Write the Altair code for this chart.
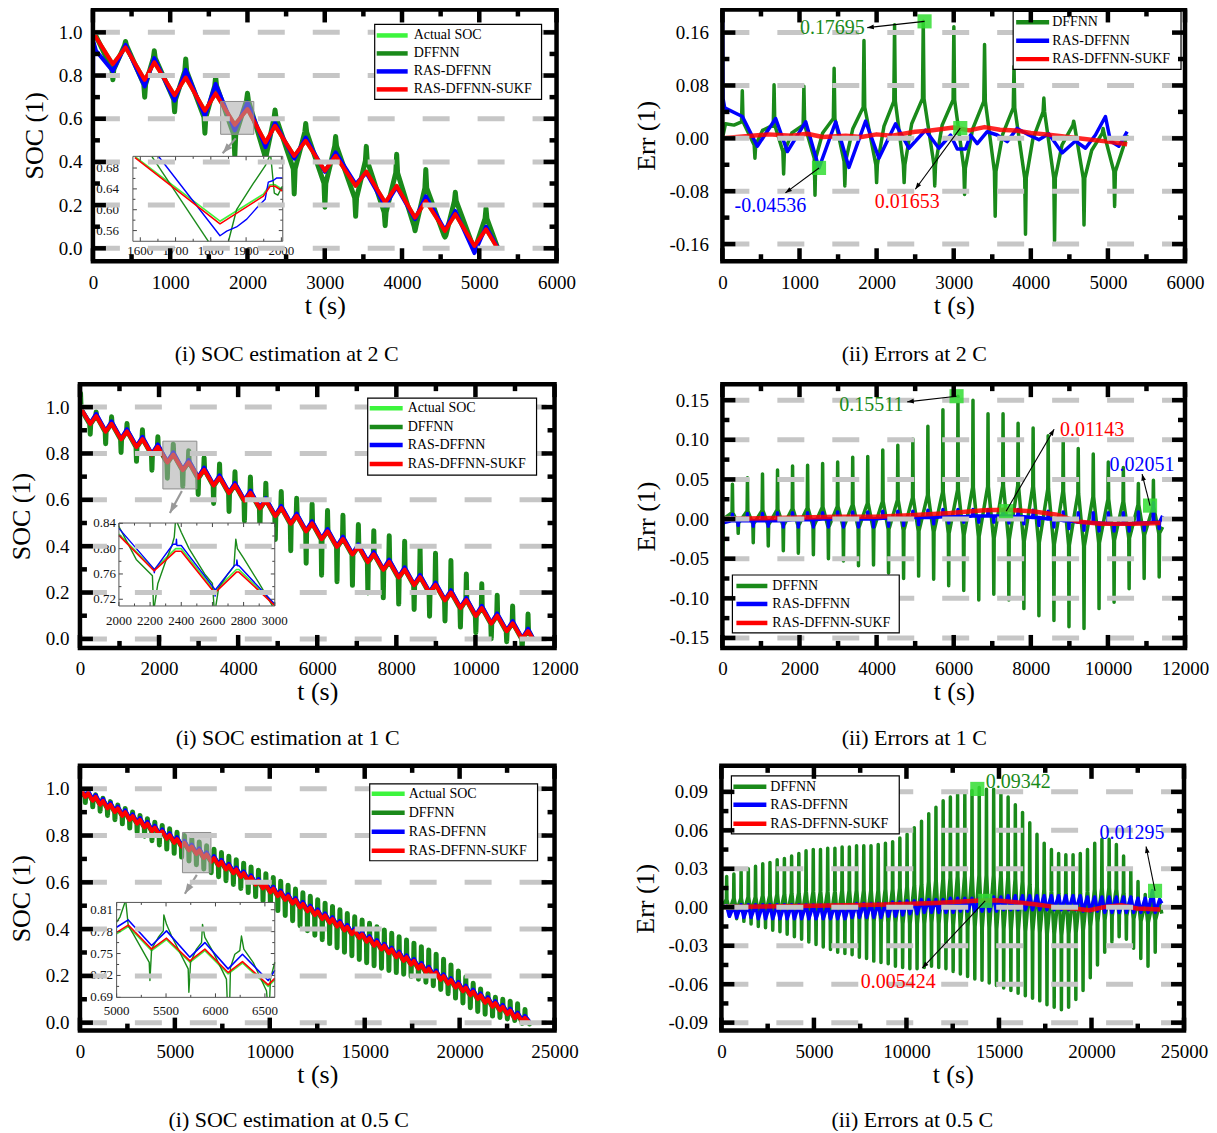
import math
import altair as alt
import pandas as pd

FONT = "Liberation Serif"
C_ACT = "#3df53d"
C_DFF = "#1a8a1a"
C_RAS = "#0000ff"
C_SUKF = "#ff0000"
C_GRID = "#c6c6c6"
C_SQ = "#33dd33"
ARROW = "M0,0L0.36,1L-0.36,1Z"
DUMMY = pd.DataFrame({"a": [0]})

# ===================== 2 C =====================
trough_t_2c = [258, 670, 1057, 1449, 1836, 2233, 2605, 3002, 3400, 3782, 4169, 4556, 4938]
peak_t_2c = [422, 794, 1201, 1588, 2000, 2357, 2754, 3141, 3538, 3931, 4308, 4690, 5087]
soc_trough_2c = [0.853, 0.780, 0.709, 0.637, 0.572, 0.490, 0.428, 0.359, 0.289, 0.212, 0.142, 0.080, 0.011]
soc_peak_2c = [0.930, 0.861, 0.791, 0.717, 0.645, 0.567, 0.498, 0.428, 0.355, 0.289, 0.219, 0.158, 0.088]
dffnn_lo_2c = [0.780, 0.700, 0.632, 0.533, 0.425, 0.330, 0.252, 0.190, 0.148, 0.105, 0.081, 0.052, -0.004]
dffnn_hi_2c = [0.958, 0.915, 0.877, 0.795, 0.718, 0.640, 0.578, 0.518, 0.472, 0.435, 0.365, 0.260, 0.185]
dffnn_trsh_2c = [0.828, 0.760, 0.689, 0.607, 0.525, 0.434, 0.368, 0.301, 0.233, 0.166, 0.102, 0.060, 0.003]
dffnn_pksh_2c = [0.940, 0.881, 0.821, 0.752, 0.685, 0.607, 0.538, 0.473, 0.405, 0.349, 0.279, 0.218, 0.138]
ras_lo_2c = [0.820, 0.750, 0.684, 0.612, 0.546, 0.468, 0.415, 0.354, 0.297, 0.197, 0.135, 0.084, -0.022]
ras_hi_2c = [0.942, 0.881, 0.826, 0.761, 0.675, 0.582, 0.513, 0.444, 0.350, 0.284, 0.241, 0.173, 0.100]

err_up_2c = [0.072, 0.081, 0.079, 0.106, 0.148, 0.172, 0.177, 0.169, 0.142, 0.109, 0.061, 0.026, 0.015]
err_dn_2c = [-0.030, -0.054, -0.086, -0.072, -0.067, -0.067, -0.072, -0.085, -0.118, -0.145, -0.155, -0.131, -0.103]
err_ramp_2c = [0.025, 0.020, 0.020, 0.030, 0.047, 0.056, 0.060, 0.058, 0.056, 0.046, 0.040, 0.020, 0.008]
err_base_2c = [-0.010, -0.020, -0.030, -0.035, -0.040, -0.040, -0.040, -0.045, -0.050, -0.060, -0.060, -0.060, -0.050]
err_mid_t_2c = [520, 900, 1300, 1690, 2095, 2455, 2850, 3245, 3635, 4025, 4405, 4790]
err_mid_v_2c = [0.012, 0.008, 0.008, 0.014, 0.018, 0.022, 0.020, 0.014, 0.006, -0.002, -0.010, -0.018]
ras_err_t_2c = [0, 8, 30, 259, 453, 691, 843, 1080, 1252, 1469, 1641, 1857, 2030, 2246, 2419, 2635, 2680,
                2808, 2959, 3046, 3154, 3218, 3305, 3434, 3564, 3693, 3823, 3974, 4104, 4233, 4406, 4579,
                4709, 4838, 4968, 5033, 5141, 5249]
ras_err_v_2c = [0.25, 0.06, 0.046, 0.033, -0.012, 0.030, -0.020, 0.025, -0.045, 0.025, -0.044, 0.026,
                -0.030, 0.022, -0.015, 0.0125, 0.005, -0.015, 0.005, -0.016, -0.016, 0.005, -0.008, 0.010,
                0.005, -0.005, 0.015, 0.005, -0.002, 0.007, -0.022, -0.004, -0.015, 0.005, 0.033, -0.004,
                -0.012, 0.010]
sukf_err_t_2c = [0, 300, 600, 900, 1100, 1300, 1600, 1800, 2000, 2200, 2500, 2700, 3000, 3200, 3400, 3600,
                 3800, 4000, 4200, 4400, 4700, 5000, 5250]
sukf_err_v_2c = [0.0, 0.003, 0.006, 0.004, 0.007, 0.002, 0.004, 0.002, 0.006, 0.004, 0.010, 0.012, 0.0165,
                 0.012, 0.017, 0.013, 0.012, 0.008, 0.006, 0.003, -0.001, -0.005, -0.009]

# inset 2 C
in1_act_t = [1585, 1826, 1949, 1968, 1982, 2003]
in1_act_v = [0.702, 0.578, 0.630, 0.648, 0.648, 0.639]
in1_sukf_v = [0.700, 0.573, 0.626, 0.645, 0.645, 0.636]
in1_ras_t = [1652, 1826, 1845, 1873, 1902, 1935, 1954, 1963, 1977, 1987, 2003]
in1_ras_v = [0.702, 0.550, 0.559, 0.567, 0.582, 0.607, 0.620, 0.653, 0.656, 0.661, 0.661]
in1_dff = [([1633, 1793], [0.702, 0.5395]),
           ([1850, 1873, 1920, 1955, 1966], [0.5395, 0.600, 0.650, 0.685, 0.702]),
           ([1970, 1980, 1990, 2003], [0.702, 0.632, 0.628, 0.645])]

# ===================== 1 C =====================
trough_t_1c = [260, 650, 1040, 1430, 1820, 2210, 2600, 2990, 3380, 3770, 4160, 4550, 4940, 5330, 5720,
               6110, 6500, 6890, 7280, 7670, 8060, 8450, 8840, 9230, 9620, 10010, 10400, 10790, 11180]
peak_t_1c = [410, 800, 1190, 1580, 1970, 2360, 2750, 3140, 3530, 3920, 4310, 4700, 5090, 5480, 5870,
             6260, 6650, 7040, 7430, 7820, 8210, 8600, 8990, 9380, 9770, 10160, 10550, 10940, 11330]
soc_trough_1c = [0.927, 0.894, 0.861, 0.828, 0.795, 0.761, 0.728, 0.695, 0.662, 0.629, 0.596, 0.563, 0.530,
                 0.497, 0.464, 0.430, 0.397, 0.364, 0.331, 0.298, 0.265, 0.232, 0.199, 0.166, 0.133, 0.099,
                 0.066, 0.033, 0.000]
soc_peak_1c = [0.961, 0.928, 0.895, 0.862, 0.829, 0.795, 0.762, 0.729, 0.696, 0.663, 0.630, 0.597, 0.564,
               0.531, 0.498, 0.464, 0.431, 0.398, 0.365, 0.332, 0.299, 0.266, 0.233, 0.200, 0.167, 0.133,
               0.100, 0.067, 0.034]
dffnn_lo_1c = [0.883, 0.842, 0.804, 0.766, 0.728, 0.693, 0.658, 0.623, 0.584, 0.550, 0.509, 0.470, 0.429,
               0.380, 0.326, 0.275, 0.247, 0.231, 0.198, 0.177, 0.150, 0.127, 0.098, 0.077, 0.051, 0.027,
               0.001, -0.012, -0.049]
dffnn_hi_1c = [0.979, 0.958, 0.929, 0.902, 0.872, 0.840, 0.812, 0.782, 0.755, 0.721, 0.698, 0.672, 0.636,
               0.607, 0.582, 0.554, 0.533, 0.493, 0.467, 0.445, 0.421, 0.394, 0.369, 0.338, 0.280, 0.238,
               0.188, 0.142, 0.107]
ras_lo_1c = [0.930, 0.897, 0.864, 0.831, 0.798, 0.764, 0.731, 0.698, 0.665, 0.632, 0.599, 0.566, 0.533,
             0.500, 0.467, 0.433, 0.400, 0.367, 0.334, 0.301, 0.268, 0.235, 0.202, 0.169, 0.136, 0.102,
             0.069, 0.036, 0.003]
ras_hi_1c = [0.971, 0.938, 0.905, 0.872, 0.839, 0.805, 0.772, 0.739, 0.706, 0.673, 0.640, 0.607, 0.574,
             0.541, 0.508, 0.474, 0.441, 0.408, 0.375, 0.342, 0.309, 0.276, 0.243, 0.210, 0.177, 0.143,
             0.110, 0.077, 0.044]

err_up_1c = [0.044, 0.052, 0.057, 0.062, 0.067, 0.068, 0.070, 0.072, 0.078, 0.079, 0.087, 0.093, 0.101,
             0.117, 0.138, 0.155, 0.150, 0.133, 0.133, 0.121, 0.115, 0.105, 0.101, 0.089, 0.082, 0.072,
             0.065, 0.045, 0.049]
err_dn_1c = [-0.018, -0.030, -0.034, -0.040, -0.043, -0.045, -0.050, -0.053, -0.059, -0.058, -0.068, -0.075,
             -0.072, -0.076, -0.084, -0.090, -0.102, -0.095, -0.102, -0.113, -0.122, -0.128, -0.136, -0.138,
             -0.113, -0.105, -0.088, -0.075, -0.073]
err_ramp_1c = [0.008, 0.010, 0.011, 0.012, 0.013, 0.014, 0.015, 0.016, 0.018, 0.020, 0.022, 0.024, 0.027,
               0.030, 0.034, 0.037, 0.040, 0.041, 0.042, 0.042, 0.041, 0.038, 0.035, 0.032, 0.028, 0.025,
               0.022, 0.018, 0.015]
err_base_1c = [-0.005, -0.006, -0.007, -0.008, -0.008, -0.009, -0.010, -0.010, -0.011, -0.012, -0.013,
               -0.014, -0.015, -0.016, -0.018, -0.020, -0.022, -0.024, -0.026, -0.028, -0.030, -0.032,
               -0.033, -0.034, -0.030, -0.027, -0.024, -0.020, -0.018]
ras_up_1c = [0.006, 0.007, 0.007, 0.008, 0.008, 0.008, 0.008, 0.009, 0.009, 0.009, 0.010, 0.010, 0.010,
             0.011, 0.012, 0.012, 0.012, 0.012, 0.012, 0.012, 0.011, 0.010, 0.009, 0.008, 0.008, 0.008,
             0.008, 0.009, 0.0205]
ras_dn_1c = [-0.008, -0.009, -0.009, -0.010, -0.010, -0.010, -0.010, -0.010, -0.010, -0.010, -0.009,
             -0.008, -0.007, -0.006, -0.005, -0.004, -0.004, -0.004, -0.005, -0.006, -0.008, -0.010,
             -0.012, -0.014, -0.015, -0.015, -0.015, -0.014, -0.012]
ras_base_1c = [-0.002, -0.002, -0.002, -0.002, -0.001, -0.001, 0.0, 0.0, 0.0, 0.0, 0.001, 0.001, 0.002,
               0.002, 0.003, 0.003, 0.004, 0.004, 0.004, 0.003, 0.002, 0.0, -0.002, -0.004, -0.005, -0.006,
               -0.006, -0.005, -0.004]
sukf_err_t_1c = [0, 1000, 2000, 3000, 4000, 5000, 5919, 6782, 7387, 8078, 8683, 9201, 9806, 10670, 11362]
sukf_err_v_1c = [0.0, 0.001, 0.002, 0.003, 0.003, 0.005, 0.0075, 0.011, 0.0117, 0.0096, 0.0054, -0.003,
                 -0.006, -0.006, -0.005]

# inset 1 C
in2_t = [2000, 2225, 2364, 2400, 2615, 2754, 2770, 3000]
in2_sukf_v = [0.821, 0.765, 0.796, 0.796, 0.730, 0.763, 0.763, 0.710]
in2_act_v = [0.823, 0.767, 0.800, 0.800, 0.733, 0.767, 0.767, 0.712]
in2_ras_t = [2000, 2225, 2227, 2232, 2347, 2367, 2369, 2372, 2400, 2615, 2617, 2622, 2743, 2754, 2757,
             2762, 2770, 3000]
in2_ras_v = [0.832, 0.768, 0.762, 0.768, 0.807, 0.807, 0.815, 0.805, 0.805, 0.736, 0.725, 0.736, 0.774,
             0.774, 0.782, 0.773, 0.773, 0.712]
in2_dff = [([2000, 2111, 2215, 2222], [0.835, 0.783, 0.757, 0.7094]),
           ([2228, 2250, 2300, 2340, 2355, 2362], [0.7094, 0.745, 0.780, 0.805, 0.818, 0.8405]),
           ([2375, 2400, 2450, 2550, 2600, 2610], [0.8405, 0.826, 0.800, 0.760, 0.745, 0.7094]),
           ([2622, 2640, 2700, 2738, 2750, 2760, 2800, 2900, 2985],
            [0.7094, 0.738, 0.760, 0.772, 0.815, 0.800, 0.785, 0.745, 0.7094])]

# ===================== 0.5 C =====================
trough_t_05 = [284, 674, 1064, 1454, 1844, 2234, 2624, 3014, 3404, 3794, 4184, 4574, 4964, 5354, 5744,
               6134, 6524, 6914, 7304, 7694, 8084, 8474, 8864, 9254, 9644, 10034, 10424, 10814, 11204,
               11594, 11984, 12374, 12764, 13154, 13544, 13934, 14324, 14714, 15104, 15494, 15884, 16274,
               16664, 17054, 17444, 17834, 18224, 18614, 19004, 19394, 19784, 20174, 20564, 20954, 21344,
               21734, 22124, 22514, 22904, 23294, 23684]
peak_t_05 = [434, 824, 1214, 1604, 1994, 2384, 2774, 3164, 3554, 3944, 4334, 4724, 5114, 5504, 5894,
             6284, 6674, 7064, 7454, 7844, 8234, 8624, 9014, 9404, 9794, 10184, 10574, 10964, 11354, 11744,
             12134, 12524, 12914, 13304, 13694, 14084, 14474, 14864, 15254, 15644, 16034, 16424, 16814,
             17204, 17594, 17984, 18374, 18764, 19154, 19544, 19934, 20324, 20714, 21104, 21494, 21884,
             22274, 22664, 23054, 23444]
soc_trough_05 = [0.965, 0.949, 0.932, 0.916, 0.900, 0.884, 0.867, 0.851, 0.835, 0.818,
                 0.802, 0.786, 0.769, 0.753, 0.737, 0.721, 0.704, 0.688, 0.672, 0.655,
                 0.639, 0.623, 0.606, 0.590, 0.574, 0.557, 0.541, 0.525, 0.509, 0.492,
                 0.476, 0.460, 0.443, 0.427, 0.411, 0.394, 0.378, 0.362, 0.346, 0.329,
                 0.313, 0.297, 0.280, 0.264, 0.248, 0.231, 0.215, 0.199, 0.183, 0.166,
                 0.150, 0.134, 0.117, 0.101, 0.085, 0.068, 0.052, 0.036, 0.019, 0.005, 0.000]
soc_peak_05 = [0.981, 0.965, 0.948, 0.932, 0.916, 0.900, 0.883, 0.867, 0.851, 0.834,
               0.818, 0.802, 0.785, 0.769, 0.753, 0.737, 0.720, 0.704, 0.688, 0.671,
               0.655, 0.639, 0.622, 0.606, 0.590, 0.573, 0.557, 0.541, 0.525, 0.508,
               0.492, 0.476, 0.459, 0.443, 0.427, 0.410, 0.394, 0.378, 0.362, 0.345,
               0.329, 0.313, 0.296, 0.280, 0.264, 0.247, 0.231, 0.215, 0.199, 0.182,
               0.166, 0.150, 0.133, 0.117, 0.101, 0.084, 0.068, 0.052, 0.035, 0.021]
dffnn_lo_05 = [0.941, 0.923, 0.904, 0.886, 0.868, 0.850, 0.832, 0.814, 0.797, 0.778,
               0.760, 0.742, 0.724, 0.708, 0.691, 0.675, 0.657, 0.641, 0.624, 0.607,
               0.591, 0.574, 0.556, 0.539, 0.520, 0.500, 0.479, 0.458, 0.436, 0.414,
               0.393, 0.374, 0.355, 0.338, 0.320, 0.301, 0.286, 0.270, 0.256, 0.243,
               0.233, 0.223, 0.214, 0.207, 0.198, 0.186, 0.173, 0.158, 0.142, 0.124,
               0.105, 0.084, 0.064, 0.048, 0.036, 0.028, 0.022, 0.016, 0.009, -0.003, -0.006]
dffnn_hi_05 = [0.988, 0.974, 0.959, 0.945, 0.931, 0.916, 0.901, 0.886, 0.872, 0.857,
               0.843, 0.829, 0.814, 0.800, 0.786, 0.772, 0.756, 0.741, 0.727, 0.711,
               0.697, 0.682, 0.666, 0.652, 0.637, 0.621, 0.605, 0.588, 0.571, 0.555,
               0.540, 0.526, 0.511, 0.497, 0.483, 0.467, 0.453, 0.439, 0.425, 0.410,
               0.396, 0.382, 0.367, 0.353, 0.340, 0.325, 0.311, 0.293, 0.271, 0.247,
               0.221, 0.195, 0.168, 0.144, 0.124, 0.109, 0.100, 0.092, 0.081, 0.056]
ras_lo_05 = [0.970, 0.954, 0.937, 0.921, 0.905, 0.889, 0.872, 0.856, 0.840, 0.823,
             0.807, 0.791, 0.774, 0.758, 0.742, 0.726, 0.709, 0.693, 0.677, 0.660,
             0.644, 0.628, 0.611, 0.595, 0.579, 0.562, 0.546, 0.530, 0.514, 0.497,
             0.481, 0.465, 0.448, 0.432, 0.416, 0.399, 0.383, 0.367, 0.351, 0.334,
             0.318, 0.302, 0.285, 0.269, 0.253, 0.236, 0.220, 0.204, 0.188, 0.171,
             0.155, 0.139, 0.122, 0.106, 0.090, 0.073, 0.057, 0.041, 0.024, 0.010, 0.003]
ras_hi_05 = [0.989, 0.973, 0.956, 0.940, 0.924, 0.908, 0.891, 0.875, 0.859, 0.842,
             0.826, 0.810, 0.793, 0.777, 0.761, 0.745, 0.728, 0.712, 0.696, 0.679,
             0.663, 0.647, 0.630, 0.614, 0.598, 0.581, 0.565, 0.549, 0.533, 0.516,
             0.500, 0.484, 0.467, 0.451, 0.435, 0.418, 0.402, 0.386, 0.370, 0.353,
             0.337, 0.321, 0.304, 0.288, 0.272, 0.255, 0.239, 0.223, 0.207, 0.190,
             0.174, 0.158, 0.141, 0.125, 0.109, 0.092, 0.076, 0.060, 0.043, 0.029]

err_up_05 = [0.024, 0.026, 0.028, 0.030, 0.032, 0.034, 0.035, 0.037, 0.038, 0.040,
             0.042, 0.044, 0.045, 0.045, 0.046, 0.046, 0.047, 0.047, 0.048, 0.048,
             0.048, 0.049, 0.050, 0.051, 0.054, 0.057, 0.062, 0.067, 0.073, 0.078,
             0.083, 0.086, 0.088, 0.089, 0.091, 0.0934, 0.092, 0.092, 0.090, 0.086,
             0.080, 0.074, 0.066, 0.057, 0.050, 0.045, 0.042, 0.041, 0.041, 0.042,
             0.045, 0.050, 0.053, 0.053, 0.049, 0.040, 0.030, 0.020, 0.010, 0.008, 0.006]
err_dn_05 = [-0.007, -0.009, -0.011, -0.013, -0.015, -0.016, -0.018, -0.019, -0.021, -0.023,
             -0.025, -0.027, -0.029, -0.031, -0.033, -0.035, -0.036, -0.037, -0.039, -0.040,
             -0.042, -0.043, -0.044, -0.046, -0.047, -0.048, -0.048, -0.047, -0.046, -0.047,
             -0.048, -0.050, -0.052, -0.054, -0.056, -0.057, -0.059, -0.061, -0.063, -0.065,
             -0.067, -0.069, -0.071, -0.073, -0.076, -0.078, -0.080, -0.078, -0.072, -0.065,
             -0.055, -0.045, -0.035, -0.027, -0.023, -0.025, -0.032, -0.040, -0.046, -0.035]
err_ramp_05 = [0.006, 0.007, 0.007, 0.008, 0.008, 0.009, 0.009, 0.010, 0.010, 0.011,
               0.011, 0.012, 0.012, 0.012, 0.012, 0.012, 0.013, 0.013, 0.013, 0.013,
               0.013, 0.013, 0.014, 0.014, 0.015, 0.016, 0.017, 0.018, 0.020, 0.021,
               0.022, 0.023, 0.024, 0.024, 0.025, 0.025, 0.025, 0.025, 0.024, 0.023,
               0.022, 0.020, 0.018, 0.016, 0.014, 0.012, 0.011, 0.011, 0.011, 0.011,
               0.012, 0.014, 0.015, 0.015, 0.014, 0.011, 0.008, 0.006, 0.003, 0.002, 0.002]
err_base_05 = [-0.002, -0.002, -0.003, -0.003, -0.004, -0.004, -0.005, -0.005, -0.006, -0.006,
               -0.007, -0.007, -0.008, -0.008, -0.009, -0.009, -0.010, -0.010, -0.010, -0.011,
               -0.011, -0.012, -0.012, -0.012, -0.013, -0.013, -0.013, -0.013, -0.012, -0.013,
               -0.013, -0.014, -0.014, -0.015, -0.015, -0.016, -0.016, -0.017, -0.017, -0.018,
               -0.018, -0.019, -0.019, -0.020, -0.021, -0.021, -0.022, -0.021, -0.020, -0.018,
               -0.015, -0.012, -0.010, -0.007, -0.006, -0.007, -0.009, -0.011, -0.012, -0.010]
ras_up_05 = [0.001, 0.001, 0.002, 0.002, 0.002, 0.002, 0.002, 0.002, 0.002, 0.002,
             0.002, 0.002, 0.002, 0.002, 0.002, 0.002, 0.002, 0.002, 0.003, 0.003,
             0.003, 0.003, 0.003, 0.004, 0.004, 0.005, 0.005, 0.006, 0.006, 0.006,
             0.006, 0.007, 0.007, 0.007, 0.007, 0.007, 0.007, 0.008, 0.008, 0.009,
             0.009, 0.009, 0.009, 0.009, 0.009, 0.009, 0.009, 0.009, 0.009, 0.009,
             0.008, 0.008, 0.008, 0.008, 0.008, 0.008, 0.008, 0.007, 0.007, 0.013, 0.006]
ras_dn_05 = [-0.007, -0.008, -0.008, -0.008, -0.009, -0.009, -0.009, -0.009, -0.009, -0.009,
             -0.009, -0.009, -0.009, -0.009, -0.009, -0.009, -0.009, -0.008, -0.008, -0.008,
             -0.008, -0.008, -0.007, -0.007, -0.006, -0.005, -0.005, -0.004, -0.004, -0.004,
             -0.004, -0.004, -0.003, -0.003, -0.003, -0.003, -0.003, -0.003, -0.002, -0.002,
             -0.002, -0.002, -0.002, -0.002, -0.002, -0.002, -0.002, -0.002, -0.002, -0.003,
             -0.003, -0.003, -0.004, -0.004, -0.004, -0.004, -0.004, -0.004, -0.004, -0.004]
sukf_err_t_05 = [0, 4150, 8400, 11600, 13720, 14790, 15850, 16920, 17980, 19040, 19890, 20740, 21600,
                 22450, 23720]
sukf_err_v_05 = [0.0003, 0.001, 0.002, 0.0034, 0.005, 0.0055, 0.004, 0.0024, 0.0003, -0.001, -0.0023,
                 0.0003, 0.0016, -0.001, -0.0018]

# inset 0.5 C
in3_t = [5000, 5118, 5354, 5505, 5741, 5893, 6128, 6273, 6533, 6600]
in3_sukf_v = [0.779, 0.789, 0.756, 0.771, 0.740, 0.756, 0.724, 0.739, 0.707, 0.716]
in3_act_v = [0.777, 0.787, 0.754, 0.769, 0.738, 0.754, 0.722, 0.737, 0.705, 0.714]
in3_ras_v = [0.786, 0.796, 0.761, 0.781, 0.745, 0.765, 0.729, 0.749, 0.713, 0.727]
in3_dff = [([5000, 5034, 5084], [0.793, 0.800, 0.820]),
           ([5094, 5118, 5168, 5330, 5337, 5354, 5421, 5472, 5478, 5505, 5556, 5724, 5731, 5748, 5808,
             5859, 5869, 5893, 5977, 6111, 6118],
            [0.820, 0.788, 0.777, 0.738, 0.713, 0.756, 0.772, 0.781, 0.803, 0.790, 0.774, 0.729, 0.697,
             0.738, 0.756, 0.765, 0.790, 0.772, 0.752, 0.715, 0.690]),
           ([6145, 6152, 6196, 6246, 6263, 6287, 6381, 6516, 6522],
            [0.690, 0.731, 0.749, 0.754, 0.774, 0.756, 0.738, 0.699, 0.690]),
           ([6549, 6556, 6600], [0.690, 0.715, 0.738])]


# ===================== helpers =====================
def pts_df(pts, seg=0):
    d = pd.DataFrame(pts, columns=["t", "v"])
    d["seg"] = seg
    d["i"] = list(range(len(d)))
    return d


def zig(start, t1, v1, t2, v2, end):
    pts = list(start)
    n2 = min(len(t2), len(v2))
    for k in range(min(len(t1), len(v1))):
        pts.append((t1[k], v1[k]))
        if k < n2:
            pts.append((t2[k], v2[k]))
    return pts + list(end)


def spikes(start, t1, s1, x1, t2, s2, x2, end, d, mt=(), mv=()):
    pts = list(start)
    n1 = min(len(t1), len(s1), len(x1))
    n2 = min(len(t2), len(s2), len(x2))
    nm = min(len(mt), len(mv))
    for k in range(n1):
        pts += [(t1[k] - d, s1[k]), (t1[k], x1[k]), (t1[k] + d, s1[k])]
        if k < n2:
            pts += [(t2[k] - d, s2[k]), (t2[k], x2[k]), (t2[k] + d, s2[k])]
            if k < nm:
                pts.append((mt[k], mv[k]))
    return pts + list(end)


def segs(pairs):
    return pd.concat([pts_df(list(zip(ts, vs)), k) for k, (ts, vs) in enumerate(pairs)],
                     ignore_index=True)


def x_axis(vals):
    return alt.Axis(values=vals, format="d", title="t (s)", grid=False, ticks=False, domain=False,
                    labelFont=FONT, labelFontSize=19, labelColor="black", labelPadding=12,
                    labelFlush=False, labelOverlap=False, titleFont=FONT, titleFontSize=26,
                    titleFontWeight="normal", titleColor="black", titlePadding=0)


def y_axis(vals, title, expr, pad, tpad, offset):
    return alt.Axis(values=vals, labelExpr=expr, title=title, grid=False, ticks=False, domain=False,
                    labelFont=FONT, labelFontSize=19, labelColor="black", labelPadding=pad,
                    labelFlush=False, labelOverlap=False, titleFont=FONT, titleFontSize=26,
                    titleFontWeight="normal", titleColor="black", titlePadding=tpad, offset=offset)


SOC_EXPR = "format(datum.value, '.1f')"
ERR_EXPR = "(datum.value < 0 ? '-' : '') + format(abs(datum.value), '.2f')"


class Panel:
    def __init__(self, W, H, xdom, ydom, xvals, yvals, ytitle, expr, pad, tpad, x0=0):
        self.W, self.H, self.xdom, self.ydom, self.x0 = W, H, xdom, ydom, x0
        self.xs = alt.Scale(domain=xdom, range=[x0, W], nice=False, zero=False)
        self.ys = alt.Scale(domain=ydom, nice=False, zero=False)
        self.xaxis = x_axis(xvals)
        self.yaxis = y_axis(yvals, ytitle, expr, pad, tpad, -x0)
        self.axes_on = True

    def X(self, f="t:Q"):
        return alt.X(f, scale=self.xs, axis=self.xaxis if self.axes_on else None)

    def Y(self, f="v:Q"):
        return alt.Y(f, scale=self.ys, axis=self.yaxis if self.axes_on else None)

    def px(self, t, v):
        x = self.x0 + (t - self.xdom[0]) / (self.xdom[1] - self.xdom[0]) * (self.W - self.x0)
        y = (self.ydom[1] - v) / (self.ydom[1] - self.ydom[0]) * self.H
        return x, y

    def line(self, df, color, width, opacity=1.0):
        return alt.Chart(df).mark_line(color=color, strokeWidth=width, opacity=opacity, clip=True,
                                       strokeJoin="round").encode(
            x=self.X(), y=self.Y(), detail="seg:N", order="i:Q")

    def grid(self, yvals):
        return alt.Chart(pd.DataFrame({"v": yvals})).mark_rule(
            color=C_GRID, strokeWidth=5, strokeDash=[27, 28]).encode(
            y=self.Y(), x=alt.value(self.x0), x2=alt.value(self.W))

    def ticks(self, xmaj, xmin_, ymaj, ymin_):
        out = []
        a = self.x0
        for vals, L in ((ymaj, 13), (ymin_, 7)):
            d = pd.DataFrame({"v": vals})
            out.append(alt.Chart(d).mark_rule(color="black", strokeWidth=4.5).encode(
                y=self.Y(), x=alt.value(a), x2=alt.value(a + L)))
            out.append(alt.Chart(d).mark_rule(color="black", strokeWidth=4.5).encode(
                y=self.Y(), x=alt.value(self.W - L), x2=alt.value(self.W)))
        for vals, L in ((xmaj, 13), (xmin_, 7)):
            d = pd.DataFrame({"t": vals})
            out.append(alt.Chart(d).mark_rule(color="black", strokeWidth=4.5).encode(
                x=self.X(), y=alt.value(self.H - L), y2=alt.value(self.H)))
            out.append(alt.Chart(d).mark_rule(color="black", strokeWidth=4.5).encode(
                x=self.X(), y=alt.value(0), y2=alt.value(L)))
        return out

    def frame(self):
        return alt.Chart(DUMMY).mark_rect(fillOpacity=0, stroke="black", strokeWidth=4.5).encode(
            x=alt.value(self.x0), x2=alt.value(self.W), y=alt.value(0), y2=alt.value(self.H))

    def legend(self, box, rows, sym, labx, items):
        a = self.x0
        x0, y0, x1, y1 = box
        out = [alt.Chart(DUMMY).mark_rect(fill="white", stroke="black", strokeWidth=1.2).encode(
            x=alt.value(a + x0), x2=alt.value(a + x1), y=alt.value(y0), y2=alt.value(y1))]
        for (lab, col), yy in zip(items, rows):
            out.append(alt.Chart(DUMMY).mark_rule(color=col, strokeWidth=4.5).encode(
                x=alt.value(a + sym[0]), x2=alt.value(a + sym[1]), y=alt.value(yy)))
            out.append(alt.Chart(DUMMY).mark_text(text=lab, font=FONT, fontSize=14, align="left",
                                                  baseline="middle", color="black").encode(
                x=alt.value(a + labx), y=alt.value(yy)))
        return out

    def subtitle(self, text, cx, cy):
        return alt.Chart(DUMMY).mark_text(text=text, font=FONT, fontSize=22, align="center",
                                          baseline="middle", color="black").encode(
            x=alt.value(cx), y=alt.value(cy))

    def arrow(self, a, b, color, width, size):
        x1, y1 = self.px(*a)
        x2, y2 = self.px(*b)
        ang = math.degrees(math.atan2(x2 - x1, -(y2 - y1))) % 360
        d = pd.DataFrame({"t": [a[0]], "v": [a[1]], "t2": [b[0]], "v2": [b[1]]})
        h = pd.DataFrame({"t": [b[0]], "v": [b[1]], "ang": [ang]})
        ln = alt.Chart(d).mark_rule(color=color, strokeWidth=width).encode(
            x=self.X(), y=self.Y(), x2="t2:Q", y2="v2:Q")
        hd = alt.Chart(h).mark_point(shape=ARROW, filled=True, color=color, size=size, opacity=1,
                                     strokeWidth=0).encode(
            x=self.X(), y=self.Y(), angle=alt.Angle("ang:Q", scale=None))
        return [ln, hd]

    def marker(self, t0, t1, v0, v1):
        d = pd.DataFrame({"t": [t0], "t2": [t1], "v": [v0], "v2": [v1]})
        return alt.Chart(d).mark_rect(fill="#a8a8a8", fillOpacity=0.55, stroke="#8c8c8c",
                                      strokeWidth=1).encode(
            x=self.X(), x2="t2:Q", y=self.Y(), y2="v2:Q")

    def annotations(self, squares, labels, arrows):
        out = []
        sq = pd.DataFrame(squares, columns=["t", "v"])
        out.append(alt.Chart(sq).mark_square(size=200, color=C_SQ, opacity=0.85).encode(
            x=self.X(), y=self.Y()))
        for a, b in arrows:
            out += self.arrow(a, b, "black", 1.1, 170)
        lab = pd.DataFrame(labels, columns=["t", "v", "txt", "c"])
        out.append(alt.Chart(lab).mark_text(font=FONT, fontSize=20, align="center",
                                            baseline="middle").encode(
            x=self.X(), y=self.Y(), text="txt:N", color=alt.Color("c:N", scale=None)))
        return out


def inset_chart(fpx, fdom, series, xt, xtm, yt, ytm, ylabx, xlaby, yfmt, x0=0):
    l, tp, r, b = fpx
    l, r, ylabx = l + x0, r + x0, ylabx + x0
    tx0, tx1, vy0, vy1 = fdom
    xs = alt.Scale(domain=[tx0, tx1], range=[l, r], nice=False, zero=False)
    ys = alt.Scale(domain=[vy0, vy1], range=[b, tp], nice=False, zero=False)

    def X(f="t:Q"):
        return alt.X(f, scale=xs, axis=None)

    def Y(f="v:Q"):
        return alt.Y(f, scale=ys, axis=None)

    bg = pd.DataFrame({"t": [tx0], "t2": [tx1], "v": [vy0], "v2": [vy1]})
    layers = [alt.Chart(bg).mark_rect(fill="white").encode(x=X(), x2="t2:Q", y=Y(), y2="v2:Q")]
    for df, color, w in series:
        layers.append(alt.Chart(df).mark_line(color=color, strokeWidth=w, strokeJoin="round").encode(
            x=X(), y=Y(), detail="seg:N", order="i:Q"))
    tc = "#444444"
    for vals, L in ((xt, 4), (xtm, 2.5)):
        d = pd.DataFrame({"t": vals})
        layers.append(alt.Chart(d).mark_rule(color=tc, strokeWidth=1).encode(
            x=X(), y=alt.value(b), y2=alt.value(b - L)))
        layers.append(alt.Chart(d).mark_rule(color=tc, strokeWidth=1).encode(
            x=X(), y=alt.value(tp), y2=alt.value(tp + L)))
    for vals, L in ((yt, 4), (ytm, 2.5)):
        d = pd.DataFrame({"v": vals})
        layers.append(alt.Chart(d).mark_rule(color=tc, strokeWidth=1).encode(
            y=Y(), x=alt.value(l), x2=alt.value(l + L)))
        layers.append(alt.Chart(d).mark_rule(color=tc, strokeWidth=1).encode(
            y=Y(), x=alt.value(r - L), x2=alt.value(r)))
    xl = pd.DataFrame({"t": xt, "lab": [str(v) for v in xt]})
    layers.append(alt.Chart(xl).mark_text(font=FONT, fontSize=13, align="center", baseline="middle",
                                          color="#111111").encode(
        x=X(), y=alt.value(xlaby), text="lab:N"))
    yl = pd.DataFrame({"v": yt, "lab": [format(v, yfmt) for v in yt]})
    layers.append(alt.Chart(yl).mark_text(font=FONT, fontSize=13, align="right", baseline="middle",
                                          color="#111111").encode(
        y=Y(), x=alt.value(ylabx), text="lab:N"))
    layers.append(alt.Chart(bg).mark_rect(fillOpacity=0, stroke="#555555", strokeWidth=1).encode(
        x=X(), x2="t2:Q", y=Y(), y2="v2:Q"))
    return alt.layer(*layers)


SOC_ITEMS = [("Actual SOC", C_ACT), ("DFFNN", C_DFF), ("RAS-DFFNN", C_RAS), ("RAS-DFFNN-SUKF", C_SUKF)]
ERR_ITEMS = [("DFFNN", C_DFF), ("RAS-DFFNN", C_RAS), ("RAS-DFFNN-SUKF", C_SUKF)]
SOC_MAJ = [0.0, 0.2, 0.4, 0.6, 0.8, 1.0]
SOC_MIN = [0.1, 0.3, 0.5, 0.7, 0.9]


def soc_panel(P, xmaj, xmin_, act, dff, ras, sukf, mark, arr, inset, leg, title, tpos):
    P.axes_on = True
    main = [P.line(act, C_ACT, 4), P.line(dff, C_DFF, 5), P.line(ras, C_RAS, 4),
            P.line(sukf, C_SUKF, 4), P.marker(*mark)]
    main += P.arrow(arr[0], arr[1], "#999999", 2.2, 420)
    P.axes_on = False
    over = [P.grid(SOC_MAJ)] + P.legend(*leg, SOC_ITEMS) + P.ticks(xmaj, xmin_, SOC_MAJ, SOC_MIN)
    over += [P.frame(), P.subtitle(title, *tpos)]
    ch = alt.layer(alt.layer(*main), inset, alt.layer(*over)).resolve_scale(x="independent", y="independent")
    return ch.properties(width=P.W, height=P.H)


def err_panel(P, xmaj, xmin_, ymaj, ymin_, dff, ras, sukf, ann, leg, title, tpos):
    P.axes_on = True
    layers = [P.line(dff, C_DFF, 3.5), P.line(ras, C_RAS, 3.5), P.line(sukf, C_SUKF, 4.5, 0.85),
              P.grid(ymaj)]
    layers += P.annotations(*ann)
    layers += P.legend(*leg, ERR_ITEMS)
    layers += P.ticks(xmaj, xmin_, ymaj, ymin_)
    layers += [P.frame(), P.subtitle(title, *tpos)]
    return alt.layer(*layers).properties(width=P.W, height=P.H)


x6 = [0, 1000, 2000, 3000, 4000, 5000, 6000]
x6m = [500, 1500, 2500, 3500, 4500, 5500]
x12 = [0, 2000, 4000, 6000, 8000, 10000, 12000]
x12m = [1000, 3000, 5000, 7000, 9000, 11000]
x25 = [0, 5000, 10000, 15000, 20000, 25000]
x25m = [2500, 7500, 12500, 17500, 22500]

# ===================== panel 1 : SOC 2 C =====================
P1 = Panel(477, 252, [0, 6000], [-0.06, 1.106], x6, SOC_MAJ, "SOC (1)", SOC_EXPR, 11, 11, x0=13)
act1 = pts_df(zig([(0, 1.0)], trough_t_2c, soc_trough_2c, peak_t_2c, soc_peak_2c, [(5236, 0.0)]))
dff1 = pts_df(spikes([(0, 1.0), (30, 0.99)], trough_t_2c, dffnn_trsh_2c, dffnn_lo_2c,
                     peak_t_2c, dffnn_pksh_2c, dffnn_hi_2c, [(5240, 0.0)], 12))
ras1 = pts_df(zig([(0, 0.52), (4, 0.96), (40, 0.915)], trough_t_2c, ras_lo_2c, peak_t_2c, ras_hi_2c,
                  [(5250, -0.005)]))
sukf1 = pts_df(zig([(0, 1.0)], trough_t_2c, soc_trough_2c, peak_t_2c, soc_peak_2c, [(5236, 0.0)]))
inset1 = inset_chart(
    (40, 147, 190, 232), (1579, 2004, 0.5395, 0.7024),
    [(pts_df(list(zip(in1_act_t, in1_act_v))), C_ACT, 1.6),
     (segs(in1_dff), C_DFF, 1.4),
     (pts_df(list(zip(in1_ras_t, in1_ras_v))), C_RAS, 1.4),
     (pts_df(list(zip(in1_act_t, in1_sukf_v))), C_SUKF, 1.6)],
    [1600, 1700, 1800, 1900, 2000], [1650, 1750, 1850, 1950],
    [0.56, 0.60, 0.64, 0.68], [0.58, 0.62, 0.66], 26, 242, ".2f", x0=13)
p1 = soc_panel(P1, x6, x6m, act1, dff1, ras1, sukf1, (1653, 2082, 0.528, 0.68),
               ((1848, 0.509), (1679, 0.44)), inset1,
               ((282, 15, 449, 90), [26, 44, 62, 80], (284, 315), 321),
               "(i) SOC estimation at 2 C", (207, 345))

# ===================== panel 2 : Err 2 C =====================
e2maj = [-0.16, -0.08, 0.0, 0.08, 0.16]
e2min = [-0.12, -0.04, 0.04, 0.12]
P2 = Panel(463, 252, [0, 6000], [-0.186, 0.195], x6, e2maj, "Err (1)", ERR_EXPR, 14, 9)
dff2 = pts_df(spikes([(0, 0.0), (40, 0.022), (150, 0.02)], trough_t_2c, err_ramp_2c, err_up_2c,
                     peak_t_2c, err_base_2c, err_dn_2c, [(5250, 0.005)], 10,
                     err_mid_t_2c, err_mid_v_2c))
ras2 = pts_df(list(zip(ras_err_t_2c, ras_err_v_2c)))
sukf2 = pts_df(list(zip(sukf_err_t_2c, sukf_err_v_2c)))
ann2 = ([(2622, 0.177), (1253, -0.0448), (3085, 0.0155)],
        [(1426, 0.1675, "0.17695", C_DFF), (622, -0.1026, "-0.04536", C_RAS),
         (2397, -0.0966, "0.01653", C_SUKF)],
        [((2622, 0.177), (1879, 0.1675)), ((1253, -0.0448), (817, -0.0826)),
         ((3085, 0.0155), (2502, -0.077))])
p2 = err_panel(P2, x6, x6m, e2maj, e2min, dff2, ras2, sukf2, ann2,
               ((291, 2, 459, 60), [12.7, 31.3, 49.7], (294, 327), 330), "(ii) Errors at 2 C",
               (192, 345))

# ===================== panel 3 : SOC 1 C =====================
P3 = Panel(475, 264, [0, 12000], [-0.039, 1.099], x12, SOC_MAJ, "SOC (1)", SOC_EXPR, 11, 11)
act3 = pts_df(zig([(0, 1.0)], trough_t_1c, soc_trough_1c, peak_t_1c, soc_peak_1c, [(11450, 0.0)]))
dff3 = pts_df(spikes([(0, 1.0), (15, 1.06), (30, 0.99)], trough_t_1c, soc_trough_1c, dffnn_lo_1c,
                     peak_t_1c, soc_peak_1c, dffnn_hi_1c, [(11450, 0.0)], 12))
ras3 = pts_df(zig([(0, 1.0)], trough_t_1c, ras_lo_1c, peak_t_1c, ras_hi_1c, [(11450, 0.004)]))
sukf3 = act3
inset2 = inset_chart(
    (39, 139, 195, 222), (2000, 3000, 0.7094, 0.8405),
    [(pts_df(list(zip(in2_t, in2_act_v))), C_ACT, 1.6),
     (segs(in2_dff), C_DFF, 1.4),
     (pts_df(list(zip(in2_ras_t, in2_ras_v))), C_RAS, 1.4),
     (pts_df(list(zip(in2_t, in2_sukf_v))), C_SUKF, 1.6)],
    [2000, 2200, 2400, 2600, 2800, 3000], [2100, 2300, 2500, 2700, 2900],
    [0.72, 0.76, 0.80, 0.84], [0.74, 0.78, 0.82], 36, 237, ".2f")
p3 = soc_panel(P3, x12, x12m, act3, dff3, ras3, sukf3, (2097, 2956, 0.647, 0.853),
               ((2577, 0.638), (2274, 0.543)), inset2,
               ((288, 14, 457, 91), [24, 43, 61, 80], (290, 323), 328),
               "(i) SOC estimation at 1 C", (208, 354))

# ===================== panel 4 : Err 1 C =====================
e4maj = [-0.15, -0.10, -0.05, 0.0, 0.05, 0.10, 0.15]
e4min = [-0.125, -0.075, -0.025, 0.025, 0.075, 0.125]
P4 = Panel(463, 264, [0, 12000], [-0.1626, 0.1702], x12, e4maj, "Err (1)", ERR_EXPR, 14, 9)
dff4 = pts_df(spikes([(0, 0.0), (8, -0.05), (18, 0.0)], trough_t_1c, err_ramp_1c, err_up_1c,
                     peak_t_1c, err_base_1c, err_dn_1c, [(11420, -0.01)], 10))
ras4 = pts_df(spikes([(0, -0.005)], trough_t_1c, ras_base_1c, ras_up_1c, peak_t_1c, ras_base_1c,
                     ras_dn_1c, [(11420, 0.004)], 8))
sukf4 = pts_df(list(zip(sukf_err_t_1c, sukf_err_v_1c)))
ann4 = ([(6074, 0.155), (7361, 0.010), (11093, 0.017)],
        [(3862, 0.1437, "0.15511", C_DFF), (9590, 0.112, "0.01143", C_SUKF),
         (10886, 0.068, "0.02051", C_RAS)],
        [((6074, 0.155), (4795, 0.1479)), ((7361, 0.010), (8605, 0.1134)),
         ((11093, 0.017), (10886, 0.0567))])
p4 = err_panel(P4, x12, x12m, e4maj, e4min, dff4, ras4, sukf4, ann4,
               ((10, 191, 177, 249), [202, 220, 239], (14, 45), 50), "(ii) Errors at 1 C",
               (192, 354))

# ===================== panel 5 : SOC 0.5 C =====================
P5 = Panel(475, 265, [0, 25000], [-0.034, 1.098], x25, SOC_MAJ, "SOC (1)", SOC_EXPR, 11, 11)
act5 = pts_df(zig([(0, 1.0)], trough_t_05, soc_trough_05, peak_t_05, soc_peak_05, []))
dff5 = pts_df(spikes([(0, 1.0)], trough_t_05, soc_trough_05, dffnn_lo_05, peak_t_05, soc_peak_05,
                     dffnn_hi_05, [], 15))
ras5 = pts_df(zig([(0, 1.0)], trough_t_05, ras_lo_05, peak_t_05, ras_hi_05, []))
sukf5 = act5
inset3 = inset_chart(
    (36.7, 136.7, 195, 231.7), (5000, 6600, 0.69, 0.82),
    [(pts_df(list(zip(in3_t, in3_act_v))), C_ACT, 1.6),
     (segs(in3_dff), C_DFF, 1.4),
     (pts_df(list(zip(in3_t, in3_ras_v))), C_RAS, 1.6),
     (pts_df(list(zip(in3_t, in3_sukf_v))), C_SUKF, 1.6)],
    [5000, 5500, 6000, 6500], [5250, 5750, 6250],
    [0.69, 0.72, 0.75, 0.78, 0.81], [0.705, 0.735, 0.765, 0.795], 33, 245, ".2f")
p5 = soc_panel(P5, x25, x25m, act5, dff5, ras5, sukf5, (5400, 6900, 0.641, 0.813),
               ((6158, 0.632), (5526, 0.551)), inset3,
               ((290, 18, 458, 95), [28, 47, 66, 85], (292, 325), 329),
               "(i) SOC estimation at 0.5 C", (209, 354))

# ===================== panel 6 : Err 0.5 C =====================
e6maj = [-0.09, -0.06, -0.03, 0.0, 0.03, 0.06, 0.09]
e6min = [-0.075, -0.045, -0.015, 0.015, 0.045, 0.075]
P6 = Panel(463, 265, [0, 25000], [-0.0962, 0.1103], x25, e6maj, "Err (1)", ERR_EXPR, 14, 9)
dff6 = pts_df(spikes([(0, 0.0)], trough_t_05, err_ramp_05, err_up_05, peak_t_05, err_base_05,
                     err_dn_05, [(23800, -0.005)], 15))
ras6 = pts_df(zig([(0, 0.0)], trough_t_05, ras_up_05, peak_t_05, ras_dn_05, [(23800, 0.003)]))
sukf6 = pts_df(list(zip(sukf_err_t_05, sukf_err_v_05)))
ann6 = ([(13830, 0.0923), (14255, 0.005), (23434, 0.0128)],
        [(16037, 0.0978, "0.09342", C_DFF), (9557, -0.058, "0.005424", C_SUKF),
         (22192, 0.058, "0.01295", C_RAS)],
        [((14255, 0.005), (10853, -0.0474)), ((23434, 0.0128), (22948, 0.0474))])
p6 = err_panel(P6, x25, x25m, e6maj, e6min, dff6, ras6, sukf6, ann6,
               ((10, 10, 178, 68), [21, 39, 58], (12, 45), 49), "(ii) Errors at 0.5 C",
               (191, 354))

row1 = alt.hconcat(p1, p2, spacing=58)
row2 = alt.hconcat(p3, p4, spacing=55)
row3 = alt.hconcat(p5, p6, spacing=54)
lower = alt.vconcat(row2, row3, spacing=14)
chart = alt.vconcat(row1, lower, spacing=16).properties(
    padding={"top": -2, "left": 0, "right": 0, "bottom": 0}).configure_view(stroke=None)

chart.save("out.html", embed_options={"renderer": "svg", "actions": False})
